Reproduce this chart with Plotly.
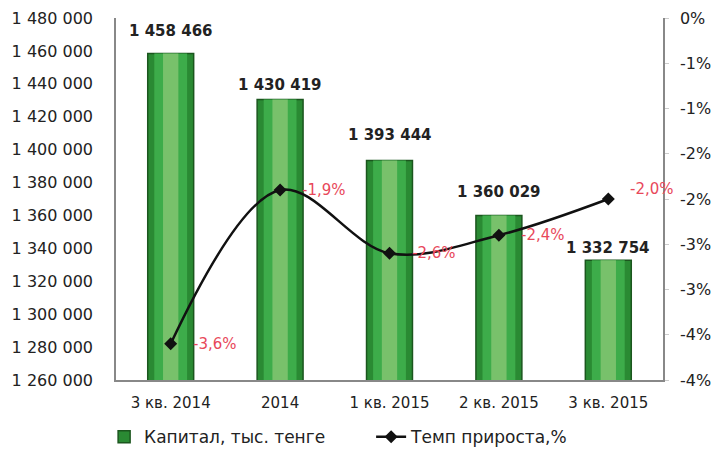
import plotly.graph_objects as go

categories = ["3 кв. 2014", "2014", "1 кв. 2015", "2 кв. 2015", "3 кв. 2015"]
capital = [1458466, 1430419, 1393444, 1360029, 1332754]
growth = [-3.6, -1.9, -2.6, -2.4, -2.0]
growth_labels = ["-3,6%", "-1,9%", "-2,6%", "-2,4%", "-2,0%"]
left_ticks = list(range(1260000, 1480001, 20000))
right_ticks = [0, -0.5, -1, -1.5, -2, -2.5, -3, -3.5, -4]
right_ticktext = ["0%", "-1%", "-1%", "-2%", "-2%", "-3%", "-3%", "-4%", "-4%"]

# style: pixel offsets of the value labels above the bars
bar_label_shift = [22, 15, 25, 23, 12]

FONT = "DejaVu Sans"
fig = go.Figure()

# layered bars for a cylindrical look
fig.add_trace(go.Bar(x=categories, y=capital, width=0.42, name="Капитал, тыс. тенге",
                     marker=dict(color="#2a8a33", line=dict(color="#1b561e", width=1.5)),
                     showlegend=True))
fig.add_trace(go.Bar(x=categories, y=capital, width=0.30, marker=dict(color="#3dac4a", line=dict(width=0)),
                     showlegend=False, hoverinfo="skip"))
fig.add_trace(go.Bar(x=categories, y=capital, width=0.14, marker=dict(color="#8cc877", line=dict(width=0), opacity=0.75),
                     showlegend=False, hoverinfo="skip"))

fig.add_trace(go.Scatter(x=categories, y=growth, yaxis="y2", name="Темп прироста,%",
                         mode="lines+markers", line=dict(color="#111111", width=2.5, shape="spline"),
                         marker=dict(symbol="diamond", size=10, color="#111111")))

annotations = []
for i, (v, s) in enumerate(zip(capital, bar_label_shift)):
    annotations.append(dict(x=i, y=v, xref="x", yref="y", text=f"{v:,}".replace(",", " "),
                            showarrow=False, xanchor="center", yanchor="middle", yshift=s,
                            font=dict(family=FONT, size=15, color="#222222", weight="bold")))
for i, (g, t) in enumerate(zip(growth, growth_labels)):
    annotations.append(dict(x=i, y=g, xref="x", yref="y2", text=t, showarrow=False,
                            xanchor="left", yanchor="middle", xshift=20, yshift=10 if g == -2.0 else 0,
                            font=dict(family=FONT, size=15, color="#e8485a")))

fig.update_layout(
    width=718, height=453,
    margin=dict(l=116, r=55, t=18, b=73),
    paper_bgcolor="white", plot_bgcolor="white",
    barmode="overlay",
    font=dict(family=FONT, size=15, color="#222222"),
    xaxis=dict(type="category", range=[-0.5, 4.5], showline=True, linecolor="#888888", linewidth=1.5, ticks="",
               tickfont=dict(family=FONT, size=15, color="#222222"), ticklabelstandoff=8, automargin=False),
    yaxis=dict(range=[1260000, 1480000], tickvals=left_ticks,
               ticktext=[f"{v:,}".replace(",", " ") for v in left_ticks],
               showgrid=False, showline=True, linecolor="#888888", linewidth=1.5, zeroline=False,
               tickfont=dict(family=FONT, size=16, color="#222222"), ticklabelstandoff=18, automargin=False),
    yaxis2=dict(range=[-4, 0], overlaying="y", side="right", tickvals=right_ticks, ticktext=right_ticktext,
                showgrid=False, showline=True, linecolor="#888888", linewidth=1.5, zeroline=False,
                ticks="outside", ticklen=4, tickcolor="#cccccc", automargin=False,
                tickfont=dict(family=FONT, size=16, color="#222222"), ticklabelstandoff=8),
    legend=dict(orientation="h", xref="container", yref="container", x=0.145, xanchor="left",
                y=0.035, yanchor="middle",
                entrywidth=222, entrywidthmode="pixels",
                font=dict(family=FONT, size=17, color="#222222")),
    annotations=annotations,
)

fig.write_html("out.html", config={"displayModeBar": False},
               post_script="document.body.style.margin='0';")
